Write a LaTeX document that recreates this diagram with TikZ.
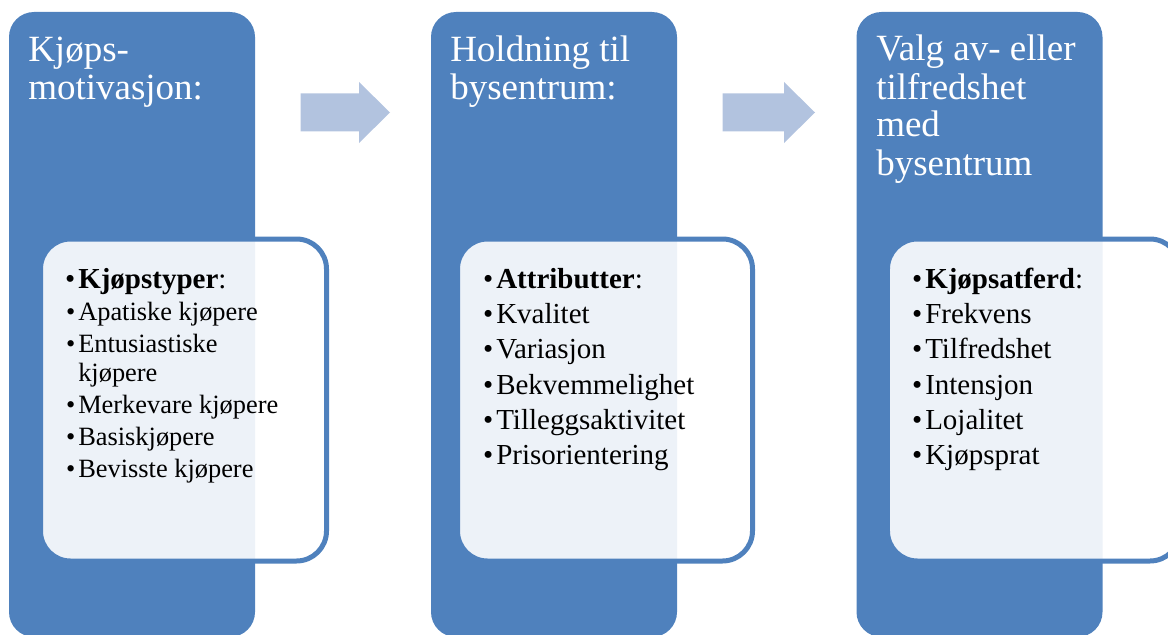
\documentclass[tikz,border=0pt]{standalone}
\usepackage{fontspec}
\setmainfont{Liberation Serif}
\definecolor{accblue}{HTML}{4F81BD}
\definecolor{arrowblue}{HTML}{B2C3DF}
\newcommand{\mybul}{\llap{•\hspace{2.2pt}}}
\begin{document}
\begin{tikzpicture}[x=0.75pt,y=-0.75pt,
  bluebox/.style={fill=accblue, draw=none, rounded corners=18.75pt,
    minimum width=184.5pt, minimum height=468.75pt, inner sep=0pt},
  listbox/.style={fill=white, fill opacity=0.9, draw=accblue, draw opacity=1,
    line width=3.75pt, rounded corners=22.5pt, minimum height=241.5pt, inner sep=0pt},
  titletext/.style={anchor=base west, inner sep=0pt, text=white,
    font=\fontsize{27.75}{28}\selectfont},
  itemtext/.style={anchor=base west, inner sep=0pt, text=black,
    font=\fontsize{21.75}{22}\selectfont},
  smallitem/.style={anchor=base west, inner sep=0pt, text=black,
    font=\fontsize{19.8}{20}\selectfont},
  flowarrow/.style={fill=arrowblue, draw=none}
]
\useasboundingbox (0,0) rectangle (1168,635);
\clip (0,0) rectangle (1168,635);

% tall blue boxes
\node[bluebox] (b1) at (132,324.5) {};
\node[bluebox] (b2) at (554,324.5) {};
\node[bluebox] (b3) at (979.5,324.5) {};

% list boxes
\node[listbox, minimum width=214.5pt] (l1) at (183.5,400) {};
\node[listbox, minimum width=221.25pt] (l2) at (605,400) {};
\node[listbox, minimum width=219.4pt] (l3) at (1033.75,400) {};

% block arrows
\fill[flowarrow] (300.7,93.5) -- (359,93.5) -- (359,82) -- (390,112.5)
  -- (359,143) -- (359,131.5) -- (300.7,131.5) -- cycle;
\fill[flowarrow] (722.7,93.5) -- (784,93.5) -- (784,82) -- (815,112.5)
  -- (784,143) -- (784,131.5) -- (722.7,131.5) -- cycle;

% titles
\node[titletext] (t1a) at (28,61.5) {Kjøps-};
\node[titletext] (t1b) at (28,99) {motivasjon:};
\node[titletext] (t2a) at (450,61.5) {Holdning til};
\node[titletext] (t2b) at (450,99) {bysentrum:};
\node[titletext] (t3a) at (876,61) {Valg av- eller};
\node[titletext] (t3b) at (876,99) {tilfredshet};
\node[titletext] (t3c) at (876,137) {med};
\node[titletext] (t3d) at (876,175.5) {bysentrum};

% list 1
\node[itemtext] (i1a) at (78,288) {\mybul\textbf{Kjøpstyper}:};
\node[smallitem] (i1b) at (78,320) {\mybul Apatiske kjøpere};
\node[smallitem] (i1c) at (78,352.5) {\mybul Entusiastiske};
\node[smallitem] (i1d) at (78,381) {kjøpere};
\node[smallitem] (i1e) at (78,413) {\mybul Merkevare kjøpere};
\node[smallitem] (i1f) at (78,445) {\mybul Basiskjøpere};
\node[smallitem] (i1g) at (78,477) {\mybul Bevisste kjøpere};

% list 2
\node[itemtext] (i2a) at (496,288) {\mybul\textbf{Attributter}:};
\node[itemtext] (i2b) at (496,323.3) {\mybul Kvalitet};
\node[itemtext] (i2c) at (496,358.5) {\mybul Variasjon};
\node[itemtext] (i2d) at (496,394) {\mybul Bekvemmelighet};
\node[itemtext] (i2e) at (496,429.3) {\mybul Tilleggsaktivitet};
\node[itemtext] (i2f) at (496,464.3) {\mybul Prisorientering};

% list 3
\node[itemtext] (i3a) at (925,288) {\mybul\textbf{Kjøpsatferd}:};
\node[itemtext] (i3b) at (925,323.3) {\mybul Frekvens};
\node[itemtext] (i3c) at (925,358.5) {\mybul Tilfredshet};
\node[itemtext] (i3d) at (925,394) {\mybul Intensjon};
\node[itemtext] (i3e) at (925,429.3) {\mybul Lojalitet};
\node[itemtext] (i3f) at (925,464.3) {\mybul Kjøpsprat};
\end{tikzpicture}
\end{document}
